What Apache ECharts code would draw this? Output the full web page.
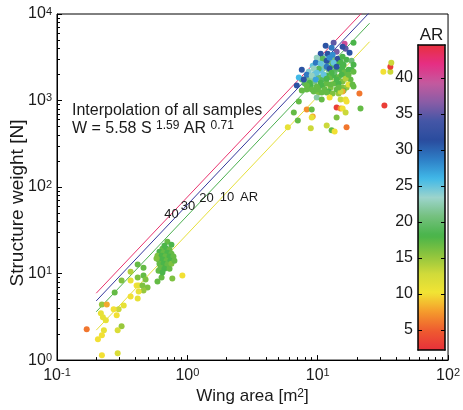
<!DOCTYPE html>
<html><head><meta charset="utf-8">
<script src="https://cdn.jsdelivr.net/npm/echarts@6/dist/echarts.min.js"></script>
<style>html,body{margin:0;padding:0;background:#fff}#c{width:463px;height:410px}</style>
</head><body><div id="c"></div>
<script>
// ---- data ----
const wingArea = [
 // small aircraft, lower left
 0.416,0.461,0.367,0.313,0.367,0.416,0.461,0.478,0.408,0.423,0.453,0.495,0.461,0.423,0.277,0.367,0.416,0.325,0.297,0.272,0.287,0.590,0.634,0.767,0.916,0.221,0.241,0.217,0.225,0.237,0.169,0.313,0.229,0.292,0.221,0.206,0.221,0.292,
 // dense group near 0.7 m2
 0.703,0.755,0.644,0.692,0.730,0.611,0.656,0.703,0.755,0.590,0.634,0.679,0.730,0.782,0.601,0.644,0.692,0.741,0.611,0.656,0.703,0.755,0.622,0.667,0.601,0.644,0.730,0.580,0.667,0.796,
 // core of the large group
 8.53,9.16,9.83,10.54,11.31,12.14,13.02,13.97,14.99,16.08,17.25,8.85,9.49,10.18,10.92,11.72,12.57,13.49,14.47,15.53,16.65,7.96,8.85,9.49,10.18,10.92,11.72,12.57,13.49,14.47,15.53,16.65,17.86,9.32,10.18,11.31,12.14,13.02,14.47,7.55,8.24,7.16,12.14,11.12,9.83,13.49,14.99,13.02,11.51,10.54,
 // lower part of the large group and outliers
 7.55,8.24,9.00,9.83,9.83,10.73,10.73,11.72,12.35,13.97,14.99,16.37,16.65,15.80,18.83,20.9,15.53,6.56,7.04,7.16,8.24,9.00,9.16,9.00,13.97,14.99,15.53,13.97,16.37,21.3,5.90,8.85,11.72,12.79,13.49,16.65,32.5,31.9,36.1,36.1,36.7,14.99,
 // upper part of the large group
 11.51,13.25,16.08,18.83,13.97,16.37,12.79,15.53,10.54,11.92,13.02,17.55,10.92,9.83,11.72,12.35,14.22,15.53,16.65,18.18,9.66,10.54,13.25,14.99,11.72,12.35,10.18,9.32,13.97,15.53,7.55,18.18,9.83,11.12,12.79,15.25,8.24,9.00,7.82,9.66,11.72,13.97,16.37,8.69,10.54,12.57,17.25,6.91,8.24,9.83,14.47,18.83,18.83,17.25,18.50,13.97,15.80
];
const structureWeight = [
 12.7,11.7,10.5,8.31,8.31,9.00,9.49,8.53,7.28,7.28,7.28,6.90,6.38,6.21,6.05,5.44,5.16,4.29,3.86,3.86,3.29,8.09,9.00,8.76,9.49,4.40,4.40,3.47,3.12,2.88,2.27,2.46,2.21,2.21,1.94,1.74,1.14,1.20,
 23.3,21.5,19.4,19.4,18.9,17.9,17.4,17.4,17.0,16.1,16.1,15.7,15.7,15.7,14.5,14.5,14.1,14.1,13.0,13.0,12.7,13.0,11.7,11.4,10.8,10.3,11.4,14.9,21.0,14.1,
 2155,2525,2805,2960,2735,2805,2525,2660,2270,2155,2270,1840,2045,1840,1745,1940,1840,1940,1840,1655,1940,1570,1487,1655,1410,1487,1570,1410,1570,1570,1410,1410,1745,1268,1236,1337,1268,1203,1203,1745,1745,1840,2270,2395,2270,2155,2805,3040,3205,2215,
 1303,1337,1337,1337,1082,1236,1026,1236,1082,1337,1026,1026,974,1303,1449,1203,1268,728,589,974,788,788,655,638,831,810,810,638,728,810,490,477,516,452,440,490,877,2155,2155,2460,2735,1268,
 4285,4645,4520,4645,3660,3960,4065,4175,3470,3470,3380,3565,3040,3120,2885,3120,3040,3205,2960,2885,2735,2660,2735,2735,2460,2335,2335,2335,2335,2460,2270,2270,2100,1990,2100,1990,1990,1940,1745,1745,1790,1745,1790,1610,1610,1527,1527,1487,1487,1449,1410,2595,2155,1990,1527,2460,2595
];
const aspectRatio = [
 17,17,14,16,11,16,17,16,10,11,16,16,15,11,17,10,11,11,13,10,10,17,17,16,10,15,8,11,11,11,6,15,11,12,10,10,10,12,
 17,18,17,18,17,18,17,18,17,16,18,17,18,17,17,18,17,18,17,18,17,16,17,18,17,18,17,16,18,17,
 24,25,26,23,24,20,19,18,18,17,18,22,25,20,19,18,17,18,17,16,17,19,18,21,17,18,17,16,17,18,16,15,17,17,16,17,18,16,15,20,21,26,21,22,24,20,19,21,24,25,
 17,17,17,17,22,17,17,17,10,17,13,11,10,17,17,6,8,17,17,17,7,17,8,11,3,7,10,16,13,17,11,13,13,17,10,6,3,10,13,3,13,13,
 31,35,40,18,36,35,29,32,31,31,28,31,19,23,31,28,32,18,18,20,29,25,25,18,29,31,19,23,19,18,31,18,25,25,18,18,29,23,31,27,18,18,14,18,18,17,11,31,17,17,17,18,17,17,17,31,18
];
// fitted relation W = 5.58 S^1.59 AR^0.71 (end points of the four drawn lines)
const fitArea = [0.2, 25];
const fitAR = [40, 30, 20, 10];
const fitWeightAR40 = [5.93, 12790];
const fitWeightAR30 = [4.83, 10430];
const fitWeightAR20 = [3.62, 7820];
const fitWeightAR10 = [2.22, 4780];
const fitColors = ['#e8336e', '#34389c', '#4cb050', '#e6e03a'];
const xTicks = [0.1, 1, 10, 100];
const yTicks = [1, 10, 100, 1000, 10000];
const colorbarTicks = [5, 10, 15, 20, 25, 30, 35, 40];
const arRange = [2.2, 44.6];
const arColors = ['#e8303a','#ee5a30','#f59a2c','#f2e434','#d0da3a','#8cc43e','#48b44a','#74c07e','#9cd4cc','#40b8e8','#2e7ec6','#2a4c9e','#4456a6','#8a5ca6','#c45a9e','#e62e84','#e8303e'];

// ---- chart ----
const font = "'Liberation Sans', Arial, Helvetica, sans-serif";
const txt = '#1a1a1a';
const sup = {e: {fontSize: 11, lineHeight: 6, verticalAlign: 'top', fontFamily: font, color: txt}};
function powLabel(v) { return '10{e|' + Math.round(Math.log10(v)) + '}'; }
function minorLog(lo, hi) { const o = []; for (let d = lo; d < hi; d++) for (let m = 2; m <= 9; m++) o.push(d + Math.log10(m)); return o; }

const fitWeights = [fitWeightAR40, fitWeightAR30, fitWeightAR20, fitWeightAR10];
const lineSeries = fitAR.map((ar, k) => ({
  type: 'line', xAxisIndex: 0, yAxisIndex: 0, silent: true, showSymbol: false, symbol: 'none',
  data: fitArea.map((s, i) => [s, fitWeights[k][i]]),
  lineStyle: {color: fitColors[k], width: 1}, itemStyle: {color: fitColors[k]}, z: 2, clip: true
}));

const hideAxisParts = {axisLabel: {show: false}, splitLine: {show: false}, axisTick: {show: false}};
const option = {
  animation: false,
  backgroundColor: '#fff',
  grid: [
    {left: 57, right: 13, top: 14, bottom: 48, show: true, borderColor: '#000', borderWidth: 1, backgroundColor: 'transparent'},
    {left: 418, top: 45, width: 27, height: 305, show: false}
  ],
  xAxis: [
    {type: 'log', logBase: 10, gridIndex: 0, min: xTicks[0], max: xTicks[xTicks.length - 1], position: 'bottom',
     axisLine: {show: true, onZero: false, lineStyle: {color: '#000', width: 1}},
     axisTick: {show: true, inside: true, length: 5, lineStyle: {color: '#000'}},
     splitLine: {show: false}, minorTick: {show: false},
     axisLabel: {margin: 7, formatter: powLabel, fontSize: 16, color: txt, fontFamily: font, rich: sup},
     name: 'Wing area [m{e|2}]', nameLocation: 'middle', nameGap: 23,
     nameTextStyle: {fontSize: 17, color: txt, fontFamily: font, rich: {e: {fontSize: 12, lineHeight: 6, verticalAlign: 'top', color: txt, fontFamily: font}}}},
    {type: 'value', gridIndex: 0, min: -1, max: 2, position: 'bottom', axisLine: {show: false, onZero: false},
     axisLabel: {show: false}, splitLine: {show: false},
     axisTick: {show: true, inside: true, length: 3, customValues: minorLog(-1, 2), lineStyle: {color: '#000'}}},
    Object.assign({type: 'value', gridIndex: 1, min: 0, max: 1, position: 'bottom', z: 10,
     axisLine: {show: true, onZero: false, lineStyle: {color: '#000', width: 1.5}}}, hideAxisParts),
    Object.assign({type: 'value', gridIndex: 1, min: 0, max: 1, position: 'top', z: 10,
     axisLine: {show: true, onZero: false, lineStyle: {color: '#000', width: 1.5}}}, hideAxisParts)
  ],
  yAxis: [
    {type: 'log', logBase: 10, gridIndex: 0, min: yTicks[0], max: yTicks[yTicks.length - 1], position: 'left',
     axisLine: {show: true, onZero: false, lineStyle: {color: '#000', width: 1}},
     axisTick: {show: true, inside: true, length: 5, lineStyle: {color: '#000'}},
     splitLine: {show: false}, minorTick: {show: false},
     axisLabel: {margin: 5, formatter: powLabel, fontSize: 16, color: txt, fontFamily: font, rich: sup}},
    {type: 'value', gridIndex: 0, min: 0, max: 4, position: 'left', axisLine: {show: false, onZero: false},
     axisLabel: {show: false}, splitLine: {show: false},
     axisTick: {show: true, inside: true, length: 3, customValues: minorLog(0, 4), lineStyle: {color: '#000'}}},
    {type: 'value', gridIndex: 1, min: arRange[0], max: arRange[1], position: 'left', z: 10,
     axisLine: {show: true, onZero: false, lineStyle: {color: '#000', width: 1.5}},
     axisTick: {show: true, inside: true, length: 4, customValues: colorbarTicks, lineStyle: {color: '#000'}},
     axisLabel: {show: true, margin: 5, customValues: colorbarTicks, fontSize: 16, color: txt, fontFamily: font},
     splitLine: {show: false}},
    {type: 'value', gridIndex: 1, min: arRange[0], max: arRange[1], position: 'right', z: 10,
     axisLine: {show: true, onZero: false, lineStyle: {color: '#000', width: 1.5}},
     axisTick: {show: true, inside: true, length: 4, customValues: colorbarTicks, lineStyle: {color: '#000'}},
     axisLabel: {show: false}, splitLine: {show: false}}
  ],
  visualMap: {
    type: 'continuous', min: arRange[0], max: arRange[1], dimension: 2, seriesIndex: 4,
    show: true, left: 418, top: 45, itemWidth: 27, itemHeight: 305, padding: 0,
    calculable: false, hoverLink: false, inRange: {color: arColors}
  },
  series: lineSeries.concat([{
    type: 'scatter', xAxisIndex: 0, yAxisIndex: 0, symbol: 'circle', symbolSize: 6, z: 3,
    itemStyle: {opacity: 1},
    data: wingArea.map((s, i) => [s, structureWeight[i], aspectRatio[i]])
  }]),
  graphic: [
    {type: 'text', x: 72, y: 103, z: 20, style: {text: 'Interpolation of all samples', fontSize: 16, fontFamily: font, fill: txt, align: 'left', verticalAlign: 'top'}},
    {type: 'text', x: 72, y: 120, z: 20, style: {text: 'W = 5.58 S {e|1.59} AR {e|0.71}', fontSize: 16, lineHeight: 18, fontFamily: font, fill: txt, align: 'left', verticalAlign: 'top',
      rich: {e: {fontSize: 12, lineHeight: 8, verticalAlign: 'top', fontFamily: font, fill: txt}}}},
    {type: 'text', x: 171.5, y: 214, z: 20, style: {text: '40', fontSize: 13, fontFamily: font, fill: txt, align: 'center', verticalAlign: 'middle'}},
    {type: 'text', x: 188, y: 206, z: 20, style: {text: '30', fontSize: 13, fontFamily: font, fill: txt, align: 'center', verticalAlign: 'middle'}},
    {type: 'text', x: 206.5, y: 198.5, z: 20, style: {text: '20', fontSize: 13, fontFamily: font, fill: txt, align: 'center', verticalAlign: 'middle'}},
    {type: 'text', x: 227, y: 197, z: 20, style: {text: '10', fontSize: 13, fontFamily: font, fill: txt, align: 'center', verticalAlign: 'middle'}},
    {type: 'text', x: 249, y: 197, z: 20, style: {text: 'AR', fontSize: 13, fontFamily: font, fill: txt, align: 'center', verticalAlign: 'middle'}},
    {type: 'text', x: 431.5, y: 35, z: 20, style: {text: 'AR', fontSize: 17, fontFamily: font, fill: txt, align: 'center', verticalAlign: 'middle'}},
    {type: 'text', x: 18, y: 203, z: 20, rotation: Math.PI / 2, style: {text: 'Structure weight [N]', fontSize: 19, fontFamily: font, fill: txt, align: 'center', verticalAlign: 'middle'}}
  ]
};
const chart = echarts.init(document.getElementById('c'), null, {renderer: 'canvas', width: 463, height: 410});
chart.setOption(option);
</script>
</body></html>
